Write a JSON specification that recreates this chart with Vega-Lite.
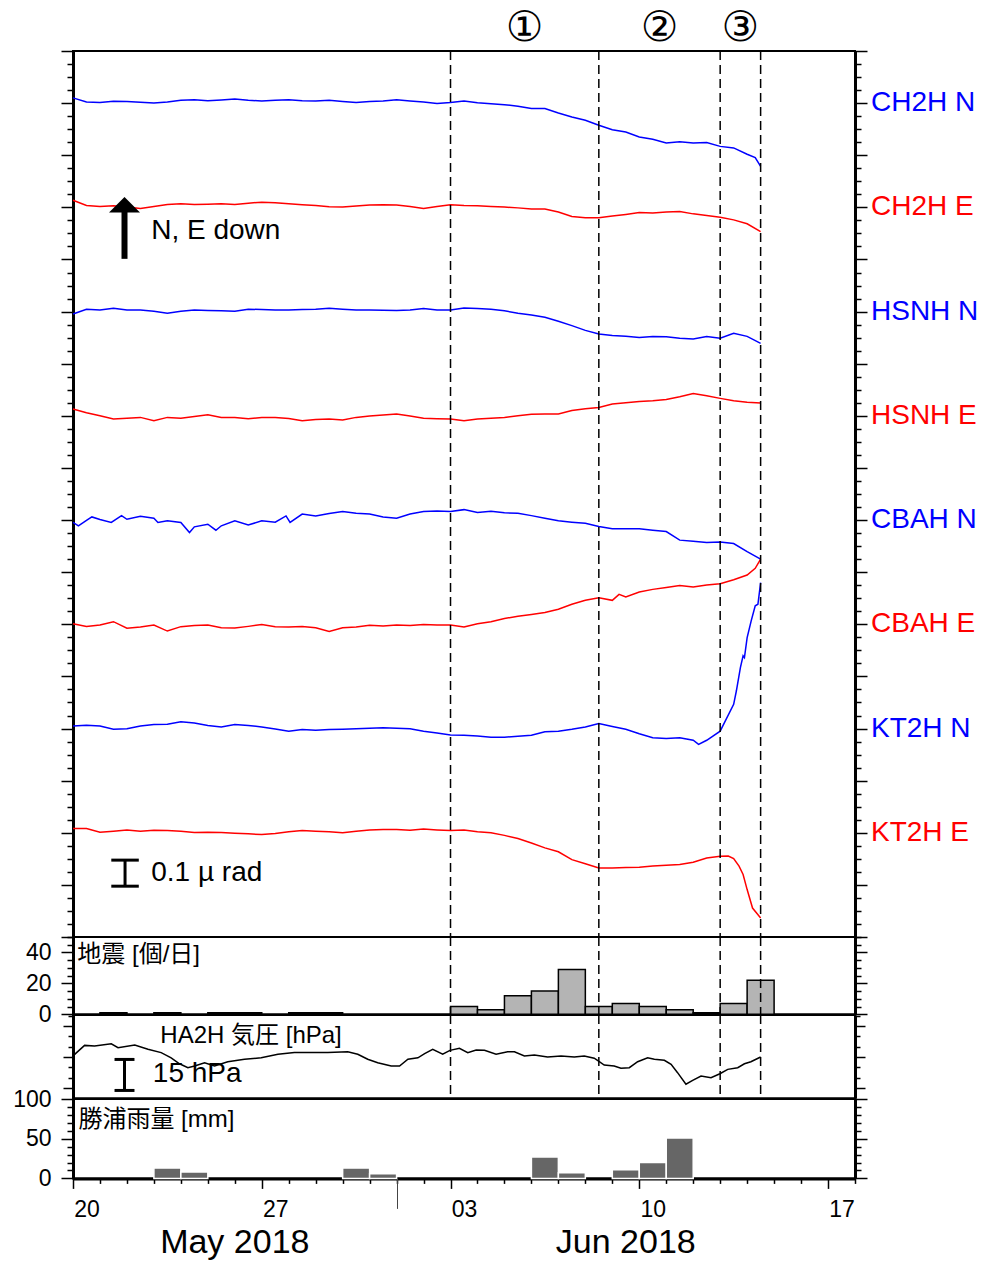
{
"$schema": "https://vega.github.io/schema/vega-lite/v6.json",
"background": "white",
"padding": {"left": 11, "top": 6, "right": 5, "bottom": 5},
"spacing": 0,
"bounds": "flush",
"config": {
  "view": {"stroke": "black", "strokeWidth": 2},
  "axis": {"grid": false, "domainColor": "black", "tickColor": "black", "labelColor": "black", "labelFont": "Liberation Sans", "labelFontSize": 23, "tickWidth": 1.5, "domainWidth": 3, "zindex": 1}
},
"datasets": {
  "events": [{"d": 14}, {"d": 19.5}, {"d": 24}, {"d": 25.5}],
  "phases": [{"d": 16.75, "t": "①"}, {"d": 21.75, "t": "②"}, {"d": 24.75, "t": "③"}],
  "stations": [{"s": "CH2H N", "v": 0}, {"s": "CH2H E", "v": -0.4}, {"s": "HSNH N", "v": -0.8}, {"s": "HSNH E", "v": -1.2}, {"s": "CBAH N", "v": -1.6}, {"s": "CBAH E", "v": -2.0}, {"s": "KT2H N", "v": -2.4}, {"s": "KT2H E", "v": -2.8}],
  "tilt": [
{"s":"CH2H N","d":0,"v":0.020},{"s":"CH2H N","d":0.5,"v":0.004},{"s":"CH2H N","d":1,"v":0.002},{"s":"CH2H N","d":1.5,"v":0.007},{"s":"CH2H N","d":2,"v":0.006},{"s":"CH2H N","d":2.5,"v":0.003},{"s":"CH2H N","d":3,"v":0.000},{"s":"CH2H N","d":3.5,"v":0.004},{"s":"CH2H N","d":4,"v":0.011},{"s":"CH2H N","d":4.5,"v":0.013},{"s":"CH2H N","d":5,"v":0.009},{"s":"CH2H N","d":5.5,"v":0.012},{"s":"CH2H N","d":6,"v":0.016},{"s":"CH2H N","d":6.5,"v":0.011},{"s":"CH2H N","d":7,"v":0.008},{"s":"CH2H N","d":7.5,"v":0.011},{"s":"CH2H N","d":8,"v":0.013},{"s":"CH2H N","d":8.5,"v":0.009},{"s":"CH2H N","d":9,"v":0.008},{"s":"CH2H N","d":9.5,"v":0.011},{"s":"CH2H N","d":10,"v":0.006},{"s":"CH2H N","d":10.5,"v":0.002},{"s":"CH2H N","d":11,"v":0.006},{"s":"CH2H N","d":11.5,"v":0.008},{"s":"CH2H N","d":12,"v":0.013},{"s":"CH2H N","d":12.5,"v":0.008},{"s":"CH2H N","d":13,"v":0.004},{"s":"CH2H N","d":13.5,"v":-0.001},{"s":"CH2H N","d":14,"v":0.002},{"s":"CH2H N","d":14.5,"v":0.008},{"s":"CH2H N","d":15,"v":0.001},{"s":"CH2H N","d":15.5,"v":-0.002},{"s":"CH2H N","d":16,"v":-0.006},{"s":"CH2H N","d":16.5,"v":-0.012},{"s":"CH2H N","d":17,"v":-0.021},{"s":"CH2H N","d":17.5,"v":-0.021},{"s":"CH2H N","d":18,"v":-0.038},{"s":"CH2H N","d":18.5,"v":-0.053},{"s":"CH2H N","d":19,"v":-0.066},{"s":"CH2H N","d":19.5,"v":-0.085},{"s":"CH2H N","d":20,"v":-0.102},{"s":"CH2H N","d":20.5,"v":-0.111},{"s":"CH2H N","d":21,"v":-0.130},{"s":"CH2H N","d":21.5,"v":-0.139},{"s":"CH2H N","d":22,"v":-0.153},{"s":"CH2H N","d":22.5,"v":-0.148},{"s":"CH2H N","d":23,"v":-0.153},{"s":"CH2H N","d":23.5,"v":-0.151},{"s":"CH2H N","d":24,"v":-0.166},{"s":"CH2H N","d":24.5,"v":-0.172},{"s":"CH2H N","d":25,"v":-0.196},{"s":"CH2H N","d":25.3,"v":-0.209},{"s":"CH2H N","d":25.5,"v":-0.243},
{"s":"CH2H E","d":0,"v":-0.373},{"s":"CH2H E","d":0.5,"v":-0.393},{"s":"CH2H E","d":1,"v":-0.397},{"s":"CH2H E","d":1.5,"v":-0.394},{"s":"CH2H E","d":2,"v":-0.399},{"s":"CH2H E","d":2.5,"v":-0.404},{"s":"CH2H E","d":3,"v":-0.397},{"s":"CH2H E","d":3.5,"v":-0.389},{"s":"CH2H E","d":4,"v":-0.386},{"s":"CH2H E","d":4.5,"v":-0.389},{"s":"CH2H E","d":5,"v":-0.388},{"s":"CH2H E","d":5.5,"v":-0.386},{"s":"CH2H E","d":6,"v":-0.389},{"s":"CH2H E","d":6.5,"v":-0.384},{"s":"CH2H E","d":7,"v":-0.380},{"s":"CH2H E","d":7.5,"v":-0.382},{"s":"CH2H E","d":8,"v":-0.386},{"s":"CH2H E","d":8.5,"v":-0.390},{"s":"CH2H E","d":9,"v":-0.393},{"s":"CH2H E","d":9.5,"v":-0.398},{"s":"CH2H E","d":10,"v":-0.399},{"s":"CH2H E","d":10.5,"v":-0.395},{"s":"CH2H E","d":11,"v":-0.391},{"s":"CH2H E","d":11.5,"v":-0.390},{"s":"CH2H E","d":12,"v":-0.391},{"s":"CH2H E","d":12.5,"v":-0.397},{"s":"CH2H E","d":13,"v":-0.404},{"s":"CH2H E","d":13.5,"v":-0.397},{"s":"CH2H E","d":14,"v":-0.390},{"s":"CH2H E","d":14.5,"v":-0.393},{"s":"CH2H E","d":15,"v":-0.394},{"s":"CH2H E","d":15.5,"v":-0.397},{"s":"CH2H E","d":16,"v":-0.399},{"s":"CH2H E","d":16.5,"v":-0.402},{"s":"CH2H E","d":17,"v":-0.406},{"s":"CH2H E","d":17.5,"v":-0.406},{"s":"CH2H E","d":18,"v":-0.418},{"s":"CH2H E","d":18.5,"v":-0.435},{"s":"CH2H E","d":19,"v":-0.440},{"s":"CH2H E","d":19.5,"v":-0.440},{"s":"CH2H E","d":20,"v":-0.433},{"s":"CH2H E","d":20.5,"v":-0.427},{"s":"CH2H E","d":21,"v":-0.420},{"s":"CH2H E","d":21.5,"v":-0.422},{"s":"CH2H E","d":22,"v":-0.418},{"s":"CH2H E","d":22.5,"v":-0.416},{"s":"CH2H E","d":23,"v":-0.425},{"s":"CH2H E","d":23.5,"v":-0.431},{"s":"CH2H E","d":24,"v":-0.438},{"s":"CH2H E","d":24.5,"v":-0.448},{"s":"CH2H E","d":25,"v":-0.463},{"s":"CH2H E","d":25.5,"v":-0.493},
{"s":"HSNH N","d":0,"v":-0.809},{"s":"HSNH N","d":0.5,"v":-0.791},{"s":"HSNH N","d":1,"v":-0.794},{"s":"HSNH N","d":1.5,"v":-0.787},{"s":"HSNH N","d":2,"v":-0.794},{"s":"HSNH N","d":2.5,"v":-0.794},{"s":"HSNH N","d":3,"v":-0.799},{"s":"HSNH N","d":3.5,"v":-0.806},{"s":"HSNH N","d":4,"v":-0.799},{"s":"HSNH N","d":4.5,"v":-0.794},{"s":"HSNH N","d":5,"v":-0.796},{"s":"HSNH N","d":5.5,"v":-0.797},{"s":"HSNH N","d":6,"v":-0.799},{"s":"HSNH N","d":6.5,"v":-0.791},{"s":"HSNH N","d":7,"v":-0.792},{"s":"HSNH N","d":7.5,"v":-0.794},{"s":"HSNH N","d":8,"v":-0.794},{"s":"HSNH N","d":8.5,"v":-0.792},{"s":"HSNH N","d":9,"v":-0.791},{"s":"HSNH N","d":9.5,"v":-0.787},{"s":"HSNH N","d":10,"v":-0.791},{"s":"HSNH N","d":10.5,"v":-0.794},{"s":"HSNH N","d":11,"v":-0.794},{"s":"HSNH N","d":11.5,"v":-0.795},{"s":"HSNH N","d":12,"v":-0.796},{"s":"HSNH N","d":12.5,"v":-0.794},{"s":"HSNH N","d":13,"v":-0.788},{"s":"HSNH N","d":13.5,"v":-0.794},{"s":"HSNH N","d":14,"v":-0.794},{"s":"HSNH N","d":14.5,"v":-0.786},{"s":"HSNH N","d":15,"v":-0.788},{"s":"HSNH N","d":15.5,"v":-0.791},{"s":"HSNH N","d":16,"v":-0.797},{"s":"HSNH N","d":16.5,"v":-0.806},{"s":"HSNH N","d":17,"v":-0.813},{"s":"HSNH N","d":17.5,"v":-0.822},{"s":"HSNH N","d":18,"v":-0.837},{"s":"HSNH N","d":18.5,"v":-0.854},{"s":"HSNH N","d":19,"v":-0.872},{"s":"HSNH N","d":19.5,"v":-0.886},{"s":"HSNH N","d":20,"v":-0.892},{"s":"HSNH N","d":20.5,"v":-0.895},{"s":"HSNH N","d":21,"v":-0.899},{"s":"HSNH N","d":21.5,"v":-0.896},{"s":"HSNH N","d":22,"v":-0.897},{"s":"HSNH N","d":22.5,"v":-0.902},{"s":"HSNH N","d":23,"v":-0.905},{"s":"HSNH N","d":23.5,"v":-0.896},{"s":"HSNH N","d":24,"v":-0.902},{"s":"HSNH N","d":24.5,"v":-0.883},{"s":"HSNH N","d":25,"v":-0.895},{"s":"HSNH N","d":25.5,"v":-0.922},
{"s":"HSNH E","d":0,"v":-1.174},{"s":"HSNH E","d":0.5,"v":-1.188},{"s":"HSNH E","d":1,"v":-1.200},{"s":"HSNH E","d":1.5,"v":-1.212},{"s":"HSNH E","d":2,"v":-1.209},{"s":"HSNH E","d":2.5,"v":-1.206},{"s":"HSNH E","d":3,"v":-1.219},{"s":"HSNH E","d":3.5,"v":-1.206},{"s":"HSNH E","d":4,"v":-1.209},{"s":"HSNH E","d":4.5,"v":-1.203},{"s":"HSNH E","d":5,"v":-1.196},{"s":"HSNH E","d":5.5,"v":-1.206},{"s":"HSNH E","d":6,"v":-1.206},{"s":"HSNH E","d":6.5,"v":-1.211},{"s":"HSNH E","d":7,"v":-1.206},{"s":"HSNH E","d":7.5,"v":-1.206},{"s":"HSNH E","d":8,"v":-1.210},{"s":"HSNH E","d":8.5,"v":-1.219},{"s":"HSNH E","d":9,"v":-1.214},{"s":"HSNH E","d":9.5,"v":-1.212},{"s":"HSNH E","d":10,"v":-1.216},{"s":"HSNH E","d":10.5,"v":-1.206},{"s":"HSNH E","d":11,"v":-1.201},{"s":"HSNH E","d":11.5,"v":-1.197},{"s":"HSNH E","d":12,"v":-1.193},{"s":"HSNH E","d":12.5,"v":-1.201},{"s":"HSNH E","d":13,"v":-1.209},{"s":"HSNH E","d":13.5,"v":-1.211},{"s":"HSNH E","d":14,"v":-1.212},{"s":"HSNH E","d":14.5,"v":-1.219},{"s":"HSNH E","d":15,"v":-1.212},{"s":"HSNH E","d":15.5,"v":-1.209},{"s":"HSNH E","d":16,"v":-1.206},{"s":"HSNH E","d":16.5,"v":-1.200},{"s":"HSNH E","d":17,"v":-1.194},{"s":"HSNH E","d":17.5,"v":-1.193},{"s":"HSNH E","d":18,"v":-1.193},{"s":"HSNH E","d":18.5,"v":-1.180},{"s":"HSNH E","d":19,"v":-1.173},{"s":"HSNH E","d":19.5,"v":-1.168},{"s":"HSNH E","d":20,"v":-1.155},{"s":"HSNH E","d":20.5,"v":-1.150},{"s":"HSNH E","d":21,"v":-1.145},{"s":"HSNH E","d":21.5,"v":-1.142},{"s":"HSNH E","d":22,"v":-1.137},{"s":"HSNH E","d":22.5,"v":-1.127},{"s":"HSNH E","d":23,"v":-1.114},{"s":"HSNH E","d":23.5,"v":-1.123},{"s":"HSNH E","d":24,"v":-1.133},{"s":"HSNH E","d":24.5,"v":-1.142},{"s":"HSNH E","d":25,"v":-1.148},{"s":"HSNH E","d":25.5,"v":-1.151},
{"s":"CBAH N","d":0,"v":-1.609},{"s":"CBAH N","d":0.2,"v":-1.622},{"s":"CBAH N","d":0.5,"v":-1.601},{"s":"CBAH N","d":0.7,"v":-1.588},{"s":"CBAH N","d":1,"v":-1.598},{"s":"CBAH N","d":1.42,"v":-1.609},{"s":"CBAH N","d":1.8,"v":-1.583},{"s":"CBAH N","d":2,"v":-1.597},{"s":"CBAH N","d":2.5,"v":-1.585},{"s":"CBAH N","d":3,"v":-1.593},{"s":"CBAH N","d":3.15,"v":-1.609},{"s":"CBAH N","d":3.5,"v":-1.603},{"s":"CBAH N","d":4,"v":-1.609},{"s":"CBAH N","d":4.32,"v":-1.648},{"s":"CBAH N","d":4.5,"v":-1.626},{"s":"CBAH N","d":5,"v":-1.616},{"s":"CBAH N","d":5.3,"v":-1.639},{"s":"CBAH N","d":5.5,"v":-1.622},{"s":"CBAH N","d":6,"v":-1.603},{"s":"CBAH N","d":6.5,"v":-1.619},{"s":"CBAH N","d":7,"v":-1.603},{"s":"CBAH N","d":7.5,"v":-1.608},{"s":"CBAH N","d":7.9,"v":-1.584},{"s":"CBAH N","d":8.05,"v":-1.609},{"s":"CBAH N","d":8.5,"v":-1.577},{"s":"CBAH N","d":9,"v":-1.584},{"s":"CBAH N","d":9.5,"v":-1.575},{"s":"CBAH N","d":10,"v":-1.567},{"s":"CBAH N","d":10.5,"v":-1.574},{"s":"CBAH N","d":11,"v":-1.577},{"s":"CBAH N","d":11.5,"v":-1.588},{"s":"CBAH N","d":12,"v":-1.593},{"s":"CBAH N","d":12.5,"v":-1.577},{"s":"CBAH N","d":13,"v":-1.567},{"s":"CBAH N","d":13.5,"v":-1.565},{"s":"CBAH N","d":14,"v":-1.567},{"s":"CBAH N","d":14.5,"v":-1.560},{"s":"CBAH N","d":15,"v":-1.571},{"s":"CBAH N","d":15.5,"v":-1.566},{"s":"CBAH N","d":16,"v":-1.572},{"s":"CBAH N","d":16.5,"v":-1.574},{"s":"CBAH N","d":17,"v":-1.583},{"s":"CBAH N","d":17.5,"v":-1.593},{"s":"CBAH N","d":18,"v":-1.603},{"s":"CBAH N","d":18.5,"v":-1.608},{"s":"CBAH N","d":19,"v":-1.612},{"s":"CBAH N","d":19.5,"v":-1.625},{"s":"CBAH N","d":20,"v":-1.633},{"s":"CBAH N","d":20.5,"v":-1.633},{"s":"CBAH N","d":21,"v":-1.633},{"s":"CBAH N","d":21.5,"v":-1.639},{"s":"CBAH N","d":22,"v":-1.644},{"s":"CBAH N","d":22.5,"v":-1.677},{"s":"CBAH N","d":23,"v":-1.681},{"s":"CBAH N","d":23.5,"v":-1.686},{"s":"CBAH N","d":24,"v":-1.684},{"s":"CBAH N","d":24.5,"v":-1.690},{"s":"CBAH N","d":25,"v":-1.721},{"s":"CBAH N","d":25.5,"v":-1.750},
{"s":"CBAH E","d":0,"v":-1.998},{"s":"CBAH E","d":0.5,"v":-2.008},{"s":"CBAH E","d":1,"v":-2.003},{"s":"CBAH E","d":1.5,"v":-1.990},{"s":"CBAH E","d":2,"v":-2.015},{"s":"CBAH E","d":2.5,"v":-2.010},{"s":"CBAH E","d":3,"v":-2.003},{"s":"CBAH E","d":3.5,"v":-2.026},{"s":"CBAH E","d":4,"v":-2.009},{"s":"CBAH E","d":4.5,"v":-2.005},{"s":"CBAH E","d":5,"v":-2.003},{"s":"CBAH E","d":5.5,"v":-2.013},{"s":"CBAH E","d":6,"v":-2.014},{"s":"CBAH E","d":6.5,"v":-2.008},{"s":"CBAH E","d":7,"v":-2.001},{"s":"CBAH E","d":7.5,"v":-2.009},{"s":"CBAH E","d":8,"v":-2.010},{"s":"CBAH E","d":8.5,"v":-2.008},{"s":"CBAH E","d":9,"v":-2.013},{"s":"CBAH E","d":9.5,"v":-2.028},{"s":"CBAH E","d":10,"v":-2.013},{"s":"CBAH E","d":10.5,"v":-2.010},{"s":"CBAH E","d":11,"v":-2.004},{"s":"CBAH E","d":11.5,"v":-2.007},{"s":"CBAH E","d":12,"v":-2.003},{"s":"CBAH E","d":12.5,"v":-2.005},{"s":"CBAH E","d":13,"v":-2.001},{"s":"CBAH E","d":13.5,"v":-2.003},{"s":"CBAH E","d":14,"v":-2.003},{"s":"CBAH E","d":14.5,"v":-2.010},{"s":"CBAH E","d":15,"v":-1.998},{"s":"CBAH E","d":15.5,"v":-1.990},{"s":"CBAH E","d":16,"v":-1.978},{"s":"CBAH E","d":16.5,"v":-1.969},{"s":"CBAH E","d":17,"v":-1.962},{"s":"CBAH E","d":17.5,"v":-1.955},{"s":"CBAH E","d":18,"v":-1.942},{"s":"CBAH E","d":18.5,"v":-1.923},{"s":"CBAH E","d":19,"v":-1.908},{"s":"CBAH E","d":19.5,"v":-1.898},{"s":"CBAH E","d":20,"v":-1.908},{"s":"CBAH E","d":20.25,"v":-1.885},{"s":"CBAH E","d":20.5,"v":-1.895},{"s":"CBAH E","d":21,"v":-1.876},{"s":"CBAH E","d":21.5,"v":-1.866},{"s":"CBAH E","d":22,"v":-1.859},{"s":"CBAH E","d":22.5,"v":-1.851},{"s":"CBAH E","d":23,"v":-1.857},{"s":"CBAH E","d":23.5,"v":-1.849},{"s":"CBAH E","d":24,"v":-1.844},{"s":"CBAH E","d":24.5,"v":-1.829},{"s":"CBAH E","d":25,"v":-1.811},{"s":"CBAH E","d":25.3,"v":-1.785},{"s":"CBAH E","d":25.5,"v":-1.750},
{"s":"KT2H N","d":0,"v":-2.390},{"s":"KT2H N","d":0.5,"v":-2.387},{"s":"KT2H N","d":1,"v":-2.390},{"s":"KT2H N","d":1.5,"v":-2.403},{"s":"KT2H N","d":2,"v":-2.401},{"s":"KT2H N","d":2.5,"v":-2.390},{"s":"KT2H N","d":3,"v":-2.385},{"s":"KT2H N","d":3.5,"v":-2.384},{"s":"KT2H N","d":4,"v":-2.374},{"s":"KT2H N","d":4.5,"v":-2.379},{"s":"KT2H N","d":5,"v":-2.388},{"s":"KT2H N","d":5.5,"v":-2.394},{"s":"KT2H N","d":6,"v":-2.385},{"s":"KT2H N","d":6.5,"v":-2.388},{"s":"KT2H N","d":7,"v":-2.394},{"s":"KT2H N","d":7.5,"v":-2.402},{"s":"KT2H N","d":8,"v":-2.410},{"s":"KT2H N","d":8.5,"v":-2.404},{"s":"KT2H N","d":9,"v":-2.407},{"s":"KT2H N","d":9.5,"v":-2.404},{"s":"KT2H N","d":10,"v":-2.403},{"s":"KT2H N","d":10.5,"v":-2.401},{"s":"KT2H N","d":11,"v":-2.399},{"s":"KT2H N","d":11.5,"v":-2.397},{"s":"KT2H N","d":12,"v":-2.399},{"s":"KT2H N","d":12.5,"v":-2.401},{"s":"KT2H N","d":13,"v":-2.410},{"s":"KT2H N","d":13.5,"v":-2.417},{"s":"KT2H N","d":14,"v":-2.425},{"s":"KT2H N","d":14.5,"v":-2.426},{"s":"KT2H N","d":15,"v":-2.429},{"s":"KT2H N","d":15.5,"v":-2.433},{"s":"KT2H N","d":16,"v":-2.433},{"s":"KT2H N","d":16.5,"v":-2.430},{"s":"KT2H N","d":17,"v":-2.426},{"s":"KT2H N","d":17.5,"v":-2.412},{"s":"KT2H N","d":18,"v":-2.410},{"s":"KT2H N","d":18.5,"v":-2.403},{"s":"KT2H N","d":19,"v":-2.394},{"s":"KT2H N","d":19.5,"v":-2.381},{"s":"KT2H N","d":20,"v":-2.392},{"s":"KT2H N","d":20.5,"v":-2.403},{"s":"KT2H N","d":21,"v":-2.420},{"s":"KT2H N","d":21.5,"v":-2.435},{"s":"KT2H N","d":22,"v":-2.438},{"s":"KT2H N","d":22.5,"v":-2.435},{"s":"KT2H N","d":23,"v":-2.445},{"s":"KT2H N","d":23.2,"v":-2.461},{"s":"KT2H N","d":23.5,"v":-2.445},{"s":"KT2H N","d":24,"v":-2.410},{"s":"KT2H N","d":24.5,"v":-2.307},{"s":"KT2H N","d":24.6,"v":-2.256},{"s":"KT2H N","d":24.75,"v":-2.166},{"s":"KT2H N","d":24.85,"v":-2.121},{"s":"KT2H N","d":24.9,"v":-2.128},{"s":"KT2H N","d":25,"v":-2.051},{"s":"KT2H N","d":25.15,"v":-1.987},{"s":"KT2H N","d":25.3,"v":-1.929},{"s":"KT2H N","d":25.4,"v":-1.923},{"s":"KT2H N","d":25.5,"v":-1.840},
{"s":"KT2H E","d":0,"v":-2.784},{"s":"KT2H E","d":0.5,"v":-2.784},{"s":"KT2H E","d":1,"v":-2.798},{"s":"KT2H E","d":1.5,"v":-2.794},{"s":"KT2H E","d":2,"v":-2.789},{"s":"KT2H E","d":2.5,"v":-2.794},{"s":"KT2H E","d":3,"v":-2.790},{"s":"KT2H E","d":3.5,"v":-2.791},{"s":"KT2H E","d":4,"v":-2.794},{"s":"KT2H E","d":4.5,"v":-2.799},{"s":"KT2H E","d":5,"v":-2.798},{"s":"KT2H E","d":5.5,"v":-2.799},{"s":"KT2H E","d":6,"v":-2.802},{"s":"KT2H E","d":6.5,"v":-2.804},{"s":"KT2H E","d":7,"v":-2.807},{"s":"KT2H E","d":7.5,"v":-2.803},{"s":"KT2H E","d":8,"v":-2.796},{"s":"KT2H E","d":8.5,"v":-2.791},{"s":"KT2H E","d":9,"v":-2.794},{"s":"KT2H E","d":9.5,"v":-2.796},{"s":"KT2H E","d":10,"v":-2.800},{"s":"KT2H E","d":10.5,"v":-2.794},{"s":"KT2H E","d":11,"v":-2.789},{"s":"KT2H E","d":11.5,"v":-2.787},{"s":"KT2H E","d":12,"v":-2.787},{"s":"KT2H E","d":12.5,"v":-2.790},{"s":"KT2H E","d":13,"v":-2.786},{"s":"KT2H E","d":13.5,"v":-2.789},{"s":"KT2H E","d":14,"v":-2.791},{"s":"KT2H E","d":14.5,"v":-2.789},{"s":"KT2H E","d":15,"v":-2.796},{"s":"KT2H E","d":15.5,"v":-2.800},{"s":"KT2H E","d":16,"v":-2.810},{"s":"KT2H E","d":16.5,"v":-2.822},{"s":"KT2H E","d":17,"v":-2.839},{"s":"KT2H E","d":17.5,"v":-2.858},{"s":"KT2H E","d":18,"v":-2.873},{"s":"KT2H E","d":18.5,"v":-2.903},{"s":"KT2H E","d":19,"v":-2.919},{"s":"KT2H E","d":19.5,"v":-2.935},{"s":"KT2H E","d":20,"v":-2.935},{"s":"KT2H E","d":20.5,"v":-2.933},{"s":"KT2H E","d":21,"v":-2.932},{"s":"KT2H E","d":21.5,"v":-2.928},{"s":"KT2H E","d":22,"v":-2.925},{"s":"KT2H E","d":22.5,"v":-2.922},{"s":"KT2H E","d":23,"v":-2.913},{"s":"KT2H E","d":23.5,"v":-2.897},{"s":"KT2H E","d":24,"v":-2.890},{"s":"KT2H E","d":24.3,"v":-2.889},{"s":"KT2H E","d":24.5,"v":-2.899},{"s":"KT2H E","d":24.7,"v":-2.928},{"s":"KT2H E","d":24.85,"v":-2.960},{"s":"KT2H E","d":25,"v":-3.018},{"s":"KT2H E","d":25.2,"v":-3.089},{"s":"KT2H E","d":25.35,"v":-3.108},{"s":"KT2H E","d":25.5,"v":-3.127}
  ],
  "quakes": [{"d":1,"e":2,"n":1},{"d":3,"e":4,"n":1},{"d":5,"e":6,"n":1},{"d":6,"e":7,"n":1},{"d":8,"e":9,"n":1},{"d":9,"e":10,"n":1},{"d":14,"e":15,"n":5},{"d":15,"e":16,"n":3},{"d":16,"e":17,"n":12},{"d":17,"e":18,"n":15},{"d":18,"e":19,"n":29},{"d":19,"e":20,"n":5},{"d":20,"e":21,"n":7},{"d":21,"e":22,"n":5},{"d":22,"e":23,"n":3},{"d":23,"e":24,"n":1},{"d":24,"e":25,"n":7},{"d":25,"e":26,"n":22}],
  "pressure": [{"d":0,"p":1010.5},{"d":0.43,"p":1015.6},{"d":0.8,"p":1015.3},{"d":1.42,"p":1016.4},{"d":1.67,"p":1014.5},{"d":2.29,"p":1015.8},{"d":2.78,"p":1013.7},{"d":3.27,"p":1012.1},{"d":3.64,"p":1009.6},{"d":3.95,"p":1006.7},{"d":4.26,"p":1004.8},{"d":4.51,"p":1005.6},{"d":4.88,"p":1007.2},{"d":5.25,"p":1005.6},{"d":5.74,"p":1007.7},{"d":6.36,"p":1008.9},{"d":6.98,"p":1009.6},{"d":7.6,"p":1011.3},{"d":8.21,"p":1012.1},{"d":8.83,"p":1012.1},{"d":9.45,"p":1012.1},{"d":10.19,"p":1012.5},{"d":10.56,"p":1011.3},{"d":10.93,"p":1008.9},{"d":11.3,"p":1007.2},{"d":11.8,"p":1005.6},{"d":12.11,"p":1005.6},{"d":12.42,"p":1008.9},{"d":12.79,"p":1009.6},{"d":13.04,"p":1011.6},{"d":13.34,"p":1013.7},{"d":13.71,"p":1011.3},{"d":13.98,"p":1013.2},{"d":14.33,"p":1014.2},{"d":14.64,"p":1012.1},{"d":14.95,"p":1013.4},{"d":15.26,"p":1013.2},{"d":15.69,"p":1011.3},{"d":16.12,"p":1012.5},{"d":16.37,"p":1012.5},{"d":16.74,"p":1010.5},{"d":17.11,"p":1010.9},{"d":17.6,"p":1010.0},{"d":18.1,"p":1010.5},{"d":18.59,"p":1010.0},{"d":18.96,"p":1010.5},{"d":19.33,"p":1009.4},{"d":19.49,"p":1008.0},{"d":19.7,"p":1006.1},{"d":20.07,"p":1005.6},{"d":20.32,"p":1004.5},{"d":20.63,"p":1004.8},{"d":20.94,"p":1007.7},{"d":21.31,"p":1009.6},{"d":21.56,"p":1008.9},{"d":21.93,"p":1008.4},{"d":22.18,"p":1006.4},{"d":22.42,"p":1002.4},{"d":22.73,"p":996.8},{"d":22.98,"p":998.7},{"d":23.29,"p":1000.8},{"d":23.66,"p":1000.0},{"d":23.99,"p":1001.9},{"d":24.28,"p":1004.0},{"d":24.65,"p":1004.8},{"d":24.9,"p":1006.7},{"d":25.14,"p":1007.7},{"d":25.5,"p":1010.0}],
  "rain": [{"d":3,"e":4,"mm":13},{"d":4,"e":5,"mm":8},{"d":10,"e":11,"mm":13},{"d":11,"e":12,"mm":6},{"d":17,"e":18,"mm":27},{"d":18,"e":19,"mm":7},{"d":20,"e":21,"mm":11},{"d":21,"e":22,"mm":20},{"d":22,"e":23,"mm":51}]
},
"vconcat": [
{
  "width": 782, "height": 886,
  "layer": [
    {
      "data": {"name": "tilt"},
      "mark": {"type": "line", "strokeWidth": 1.5},
      "encoding": {
        "x": {"field": "d", "type": "quantitative", "scale": {"domain": [0, 29], "nice": false, "zero": false},
              "axis": {"orient": "top", "title": null, "labels": false, "values": [0,1,2,3,4,5,6,7,8,9,10,11,12,13,14,15,16,17,18,19,20,21,22,23,24,25,26,27,28,29],
                       "tickWidth": 1, "tickSize": {"condition": {"test": "datum.value % 7 === 0", "value": 10}, "value": 6}}},
        "y": {"field": "v", "type": "quantitative", "scale": {"domain": [-3.2, 0.2], "nice": false, "zero": false},
              "axis": {"orient": "left", "title": null, "labels": false,
                       "values": [-3.2,-3.15,-3.1,-3.05,-3,-2.95,-2.9,-2.85,-2.8,-2.75,-2.7,-2.65,-2.6,-2.55,-2.5,-2.45,-2.4,-2.35,-2.3,-2.25,-2.2,-2.15,-2.1,-2.05,-2,-1.95,-1.9,-1.85,-1.8,-1.75,-1.7,-1.65,-1.6,-1.55,-1.5,-1.45,-1.4,-1.35,-1.3,-1.25,-1.2,-1.15,-1.1,-1.05,-1,-0.95,-0.9,-0.85,-0.8,-0.75,-0.7,-0.65,-0.6,-0.55,-0.5,-0.45,-0.4,-0.35,-0.3,-0.25,-0.2,-0.15,-0.1,-0.05,0,0.05,0.1,0.15,0.2],
                       "tickSize": {"condition": {"test": "abs(datum.value*5-round(datum.value*5))<0.01", "value": 12}, "value": 6}}},
        "color": {"field": "s", "type": "nominal", "legend": null,
                  "scale": {"domain": ["CH2H N","CH2H E","HSNH N","HSNH E","CBAH N","CBAH E","KT2H N","KT2H E"],
                            "range": ["#0000ff","#ff0000","#0000ff","#ff0000","#0000ff","#ff0000","#0000ff","#ff0000"]}}
      }
    },
    {
      "data": {"name": "stations"},
      "mark": {"type": "text", "align": "left", "baseline": "middle", "dx": 16, "fontSize": 28, "font": "Liberation Sans"},
      "encoding": {
        "x": {"datum": 29, "type": "quantitative", "axis": null},
        "y": {"field": "v", "type": "quantitative",
              "axis": {"orient": "right", "title": null, "labels": false,
                       "values": [-3.2,-3.15,-3.1,-3.05,-3,-2.95,-2.9,-2.85,-2.8,-2.75,-2.7,-2.65,-2.6,-2.55,-2.5,-2.45,-2.4,-2.35,-2.3,-2.25,-2.2,-2.15,-2.1,-2.05,-2,-1.95,-1.9,-1.85,-1.8,-1.75,-1.7,-1.65,-1.6,-1.55,-1.5,-1.45,-1.4,-1.35,-1.3,-1.25,-1.2,-1.15,-1.1,-1.05,-1,-0.95,-0.9,-0.85,-0.8,-0.75,-0.7,-0.65,-0.6,-0.55,-0.5,-0.45,-0.4,-0.35,-0.3,-0.25,-0.2,-0.15,-0.1,-0.05,0,0.05,0.1,0.15,0.2],
                       "tickSize": {"condition": {"test": "abs(datum.value*5-round(datum.value*5))<0.01", "value": 12}, "value": 6}}},
        "text": {"field": "s"},
        "color": {"field": "s", "type": "nominal", "legend": null}
      }
    },
    {
      "data": {"name": "events"},
      "mark": {"type": "rule", "color": "black", "strokeWidth": 1.5, "strokeDash": [9, 5]},
      "encoding": {"x": {"field": "d", "type": "quantitative", "axis": null}}
    },
    {
      "data": {"name": "phases"},
      "mark": {"type": "text", "baseline": "middle", "align": "center", "fontSize": 42, "font": "DejaVu Sans", "dy": -23},
      "encoding": {
        "x": {"field": "d", "type": "quantitative", "axis": null},
        "y": {"datum": 0.2, "type": "quantitative", "axis": null},
        "text": {"field": "t"}
      }
    },
    {
      "data": {"values": [{"d": 2.9, "v": -0.489, "t": "N, E down"}, {"d": 2.9, "v": -2.955, "t": "0.1 µ rad"}]},
      "mark": {"type": "text", "align": "left", "baseline": "middle", "fontSize": 28, "font": "Liberation Sans", "color": "black"},
      "encoding": {
        "x": {"field": "d", "type": "quantitative", "axis": null},
        "y": {"field": "v", "type": "quantitative", "axis": null},
        "text": {"field": "t"}
      }
    },
    {
      "data": {"values": [{"d": 1.91, "v1": -0.40, "v2": -0.5976}]},
      "mark": {"type": "rule", "color": "black", "strokeWidth": 6},
      "encoding": {
        "x": {"field": "d", "type": "quantitative", "axis": null},
        "y": {"field": "v1", "type": "quantitative", "axis": null},
        "y2": {"field": "v2"}
      }
    },
    {
      "data": {"values": [{"d": 1.91, "v": -0.3897}]},
      "mark": {"type": "point", "filled": true, "color": "black", "opacity": 1, "size": 961, "shape": "M-1,0.5L0,-0.5L1,0.5Z"},
      "encoding": {
        "x": {"field": "d", "type": "quantitative", "axis": null},
        "y": {"field": "v", "type": "quantitative", "axis": null}
      }
    },
    {
      "data": {"values": [{"x1": 1.93, "x2": 1.93, "y1": -2.905, "y2": -3.005}, {"x1": 1.42, "x2": 2.44, "y1": -2.905, "y2": -2.905}, {"x1": 1.42, "x2": 2.44, "y1": -3.005, "y2": -3.005}]},
      "mark": {"type": "rule", "color": "black", "strokeWidth": 3},
      "encoding": {
        "x": {"field": "x1", "type": "quantitative", "axis": null},
        "x2": {"field": "x2"},
        "y": {"field": "y1", "type": "quantitative", "axis": null},
        "y2": {"field": "y2"}
      }
    }
  ],
  "resolve": {"axis": {"y": "independent"}}
},
{
  "width": 782, "height": 77.3,
  "layer": [
    {
      "data": {"name": "quakes"},
      "mark": {"type": "bar", "fill": "#b4b4b4", "stroke": "black", "strokeWidth": 1.5},
      "encoding": {
        "x": {"field": "d", "type": "quantitative", "scale": {"domain": [0, 29], "nice": false, "zero": false}, "axis": null},
        "x2": {"field": "e"},
        "y": {"field": "n", "type": "quantitative", "scale": {"domain": [0, 50], "nice": false},
              "axis": {"orient": "left", "title": null, "values": [0,5,10,15,20,25,30,35,40,45,50], "labelPadding": 10,
                       "labelExpr": "datum.value % 20 === 0 ? datum.label : ''",
                       "tickSize": {"condition": {"test": "datum.value % 20 === 0", "value": 12}, "value": 6}}},
        "y2": {"datum": 0}
      }
    },
    {
      "data": {"name": "events"},
      "mark": {"type": "rule", "color": "black", "strokeWidth": 1.5, "strokeDash": [9, 5]},
      "encoding": {"x": {"field": "d", "type": "quantitative", "axis": null}}
    },
    {
      "data": {"values": [{"d": 0.16, "n": 38.2, "t": "地震 [個/日]"}]},
      "mark": {"type": "text", "align": "left", "baseline": "middle", "fontSize": 24, "font": "Liberation Sans, Noto Sans CJK JP", "color": "black"},
      "encoding": {
        "x": {"field": "d", "type": "quantitative", "axis": null},
        "y": {"field": "n", "type": "quantitative",
              "axis": {"orient": "right", "title": null, "labels": false, "values": [0,5,10,15,20,25,30,35,40,45,50],
                       "tickSize": {"condition": {"test": "datum.value % 20 === 0", "value": 12}, "value": 6}}},
        "text": {"field": "t"}
      }
    }
  ],
  "resolve": {"axis": {"y": "independent"}}
},
{
  "width": 782, "height": 83.3,
  "layer": [
    {
      "data": {"name": "pressure"},
      "mark": {"type": "line", "color": "black", "strokeWidth": 1.5},
      "encoding": {
        "x": {"field": "d", "type": "quantitative", "scale": {"domain": [0, 29], "nice": false, "zero": false}, "axis": null},
        "y": {"field": "p", "type": "quantitative", "scale": {"domain": [990, 1030.3], "nice": false, "zero": false},
              "axis": {"orient": "left", "title": null, "labels": false, "values": [995,1000,1005,1010,1015,1020,1025,1030],
                       "tickSize": {"condition": {"test": "(datum.value - 995) % 15 === 0", "value": 10}, "value": 5}}}
      }
    },
    {
      "data": {"name": "events"},
      "mark": {"type": "rule", "color": "black", "strokeWidth": 1.5, "strokeDash": [9, 5]},
      "encoding": {"x": {"field": "d", "type": "quantitative", "axis": null}}
    },
    {
      "data": {"values": [{"d": 3.24, "p": 1020.1, "t": "HA2H 気圧 [hPa]"}]},
      "mark": {"type": "text", "align": "left", "baseline": "middle", "fontSize": 24, "font": "Liberation Sans, Noto Sans CJK JP", "color": "black"},
      "encoding": {
        "x": {"field": "d", "type": "quantitative", "axis": null},
        "y": {"field": "p", "type": "quantitative",
              "axis": {"orient": "right", "title": null, "labels": false, "values": [995,1000,1005,1010,1015,1020,1025,1030],
                       "tickSize": {"condition": {"test": "(datum.value - 995) % 15 === 0", "value": 10}, "value": 5}}},
        "text": {"field": "t"}
      }
    },
    {
      "data": {"values": [{"d": 2.96, "p": 1001.8, "t": "15 hPa"}]},
      "mark": {"type": "text", "align": "left", "baseline": "middle", "fontSize": 28, "font": "Liberation Sans", "color": "black"},
      "encoding": {
        "x": {"field": "d", "type": "quantitative", "axis": null},
        "y": {"field": "p", "type": "quantitative", "axis": null},
        "text": {"field": "t"}
      }
    },
    {
      "data": {"values": [{"x1": 1.91, "x2": 1.91, "y1": 993.8, "y2": 1008.8}, {"x1": 1.54, "x2": 2.28, "y1": 993.8, "y2": 993.8}, {"x1": 1.54, "x2": 2.28, "y1": 1008.8, "y2": 1008.8}]},
      "mark": {"type": "rule", "color": "black", "strokeWidth": 3},
      "encoding": {
        "x": {"field": "x1", "type": "quantitative", "axis": null},
        "x2": {"field": "x2"},
        "y": {"field": "y1", "type": "quantitative", "axis": null},
        "y2": {"field": "y2"}
      }
    }
  ],
  "resolve": {"axis": {"y": "independent"}}
},
{
  "width": 782, "height": 79.4,
  "layer": [
    {
      "data": {"name": "rain"},
      "mark": {"type": "bar", "fill": "#666666", "stroke": "white", "strokeWidth": 1.5},
      "encoding": {
        "x": {"field": "d", "type": "quantitative", "scale": {"domain": [0, 29], "nice": false, "zero": false},
              "axis": {"orient": "bottom", "title": null, "values": [0,1,2,3,4,5,6,7,8,9,10,11,12,13,14,15,16,17,18,19,20,21,22,23,24,25,26,27,28,29],
                       "labelExpr": "datum.value == 0 ? '20' : datum.value == 7 ? '27' : datum.value == 14 ? '03' : datum.value == 21 ? '10' : datum.value == 28 ? '17' : ''",
                       "labelOffset": 13.5, "labelPadding": 10, "labelFlush": false, "labelOverlap": false,
                       "tickSize": {"condition": {"test": "datum.value % 7 === 0", "value": 10}, "value": 5}}},
        "x2": {"field": "e"},
        "y": {"field": "mm", "type": "quantitative", "scale": {"domain": [0, 100], "nice": false},
              "axis": {"orient": "left", "title": null, "values": [0,10,20,30,40,50,60,70,80,90,100], "labelPadding": 10,
                       "labelExpr": "datum.value % 50 === 0 ? datum.label : ''",
                       "tickSize": {"condition": {"test": "datum.value % 50 === 0", "value": 12}, "value": 6}}},
        "y2": {"datum": 0}
      }
    },
    {
      "data": {"values": [{"d": 0.2, "mm": 73.9, "t": "勝浦雨量 [mm]"}]},
      "mark": {"type": "text", "align": "left", "baseline": "middle", "fontSize": 24, "font": "Liberation Sans, Noto Sans CJK JP", "color": "black"},
      "encoding": {
        "x": {"field": "d", "type": "quantitative", "axis": null},
        "y": {"field": "mm", "type": "quantitative",
              "axis": {"orient": "right", "title": null, "labels": false, "values": [0,10,20,30,40,50,60,70,80,90,100],
                       "tickSize": {"condition": {"test": "datum.value % 50 === 0", "value": 12}, "value": 6}}},
        "text": {"field": "t"}
      }
    },
    {
      "data": {"values": [{"d": 6, "t": "May 2018"}, {"d": 20.5, "t": "Jun 2018"}]},
      "mark": {"type": "text", "align": "center", "baseline": "middle", "fontSize": 34, "font": "Liberation Sans", "color": "black", "dy": 65},
      "encoding": {
        "x": {"field": "d", "type": "quantitative",
              "axis": {"orient": "bottom", "title": null, "labels": false, "domain": false, "values": [12], "tickSize": 30, "tickWidth": 1, "tickColor": "#444444"}},
        "y": {"datum": 0, "type": "quantitative", "axis": null},
        "text": {"field": "t"}
      }
    }
  ],
  "resolve": {"axis": {"y": "independent", "x": "independent"}}
}
]
}
